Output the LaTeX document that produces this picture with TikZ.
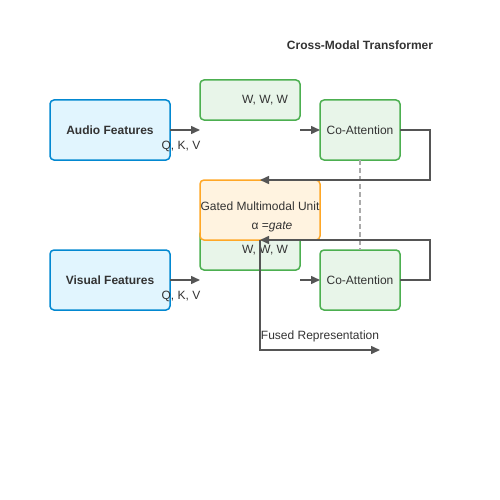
\documentclass[tikz,border=0pt]{standalone}
\usepackage{fontspec}
\setmainfont{Liberation Sans}
\usetikzlibrary{arrows.meta}
\definecolor{txtc}{HTML}{333333}
\definecolor{lnc}{HTML}{555555}
\definecolor{dashc}{HTML}{AAAAAA}
\definecolor{bluefill}{HTML}{E1F5FE}
\definecolor{blueline}{HTML}{0288D1}
\definecolor{greenfill}{HTML}{E8F5E9}
\definecolor{greenline}{HTML}{4CAF50}
\definecolor{orfill}{HTML}{FFF3E0}
\definecolor{orline}{HTML}{FFA726}
\begin{document}
\begin{tikzpicture}[x=1pt,y=-1pt,
  font=\fontsize{12}{14}\selectfont, text=txtc,
  every node/.style={inner sep=0pt, outer sep=0pt},
  box/.style={rounded corners=4pt, line width=1.5pt, anchor=north west},
  featbox/.style={box, draw=blueline, fill=bluefill, minimum width=120pt, minimum height=60pt, font=\fontsize{12}{14}\selectfont\bfseries},
  wbox/.style={box, draw=greenline, fill=greenfill, minimum width=100pt, minimum height=40pt},
  cobox/.style={box, draw=greenline, fill=greenfill, minimum width=80pt, minimum height=60pt},
  gatebox/.style={box, draw=orline, fill=orfill, minimum width=120pt, minimum height=60pt},
  conn/.style={draw=lnc, line width=1.5pt, -{Triangle[length=9pt,width=8pt]}},
  dashconn/.style={draw=dashc, line width=1.5pt, dash pattern=on 5pt off 3pt},
]
\useasboundingbox (0,0) rectangle (500,500);

\node[font=\fontsize{12}{14}\selectfont\bfseries] (title) at (360,45.5) {Cross-Modal Transformer};

% boxes
\node[featbox] (audio) at (50,100) {Audio Features};
\node[featbox] (visual) at (50,250) {Visual Features};
\node[wbox] (w1) at (200,80) {\hspace*{30pt}W, W, W};
\node[wbox] (w2) at (200,230) {\hspace*{30pt}W, W, W};
\node[cobox] (co1) at (320,100) {Co-Attention};
\node[cobox] (co2) at (320,250) {Co-Attention};
\node[gatebox] (gate) at (200,180) {};
\node (gatet1) at (260,206) {Gated Multimodal Unit};
\node (gatet2) at (272,227) {α =\textit{gate}};

% free ends
\coordinate (a1) at (200,130);
\coordinate (a2) at (300,130);
\coordinate (v1) at (200,280);
\coordinate (v2) at (300,280);
\coordinate (g1) at (260,180);
\coordinate (g2) at (260,240);
\coordinate (fused) at (380,350);

% connectors
\draw[conn] (audio.east) -- (a1);
\node (qkv1) at (181,146) {Q, K, V};
\draw[conn] (a2) -- (co1.west);
\draw[conn] (visual.east) -- (v1);
\node (qkv2) at (181,296) {Q, K, V};
\draw[conn] (v2) -- (co2.west);

\draw[dashconn] (co1.south) -- (co2.north);

\draw[conn] (co1.east) -- (430,130) -- (430,180) -- (g1);
\draw[conn] (co2.east) -- (430,280) -- (430,240) -- (g2);

\draw[conn] (g2) -- (260,350) -- (fused);
\node (fusedt) at (320,336.5) {Fused Representation};
\end{tikzpicture}
\end{document}
